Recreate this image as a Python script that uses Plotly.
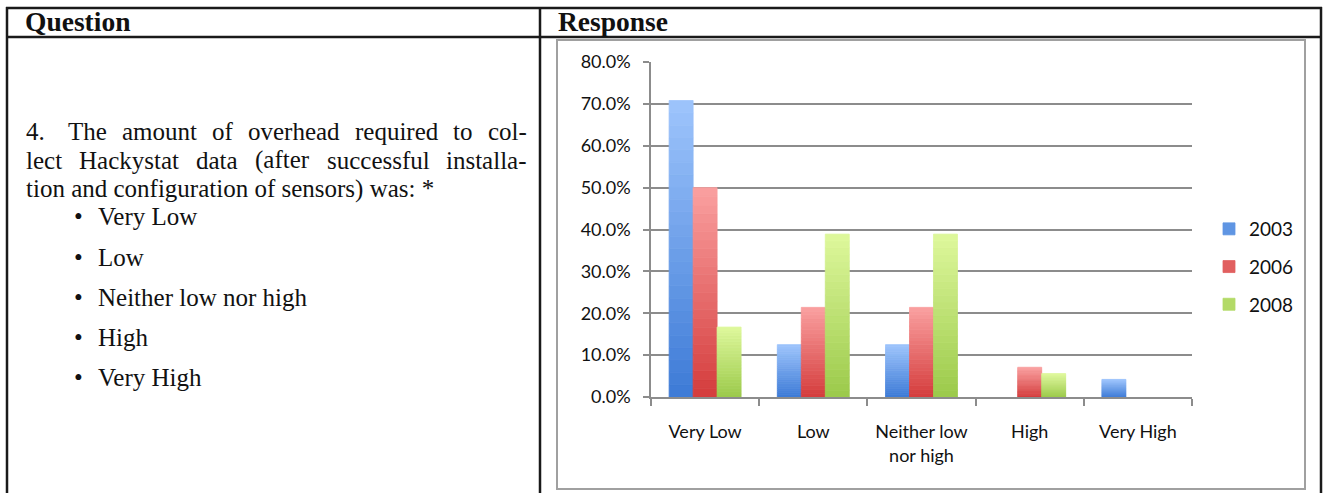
import plotly.graph_objects as go

W, H = 1325, 493

# Survey data: share of responses per category for each survey year
categories = ["Very Low", "Low", "Neither low<br>nor high", "High", "Very High"]
years = ["2003", "2006", "2008"]
values_2003 = [0.708, 0.125, 0.125, 0.0, 0.042]
values_2006 = [0.500, 0.214, 0.214, 0.071, 0.0]
values_2008 = [0.167, 0.389, 0.389, 0.056, 0.0]
y_ticks = [0.0, 0.1, 0.2, 0.3, 0.4, 0.5, 0.6, 0.7, 0.8]
y_tick_labels = ["0.0%", "10.0%", "20.0%", "30.0%", "40.0%", "50.0%", "60.0%", "70.0%", "80.0%"]

# Question paragraph: (text of the line, justified to the full column width?)
question_lines = [
    ("4.  The amount of overhead required to col-", True),
    ("lect Hackystat data (after successful installa-", True),
    ("tion and configuration of sensors) was: *", False),
]
options = ["Very Low", "Low", "Neither low nor high", "High", "Very High"]

series = [values_2003, values_2006, values_2008]
# (top colour, bottom colour) of each series' vertical gradient
gradients = [
    ((158, 197, 252), (61, 122, 214)),
    ((250, 160, 160), (212, 60, 60)),
    ((222, 248, 156), (155, 201, 74)),
]
N_BANDS = 24

# Advance widths (1/1000 em) of the Times-metric serif face, for justifying lines
ADV = {
    "a": 444, "b": 500, "c": 444, "d": 500, "e": 444, "f": 333, "g": 500, "h": 500, "i": 278,
    "j": 278, "k": 500, "l": 278, "m": 778, "n": 500, "o": 500, "p": 500, "q": 500, "r": 333,
    "s": 389, "t": 278, "u": 500, "v": 500, "w": 722, "x": 500, "y": 500, "z": 444,
    "H": 722, "T": 611, ".": 250, "-": 333, "(": 333, ")": 333, ":": 278, "*": 500,
}
TEXT_SIZE = 25
COL_LEFT, COL_RIGHT = 24, 525


def word_width(w):
    return sum(ADV.get(ch, 500) for ch in w) * TEXT_SIZE / 1000.0


def mix(c_top, c_bot, t):
    # t = 0 at the bottom of a bar, 1 at the top
    return "rgb(%d,%d,%d)" % tuple(round(b + (a - b) * t) for a, b in zip(c_top, c_bot))


def px_x(x):
    return x / W


def px_y(y):
    return 1 - y / H


fig = go.Figure()
for name, vals, (c_top, c_bot) in zip(years, series, gradients):
    # each bar is painted as a stack of thin bands so it fades from dark (bottom) to light (top)
    for k in range(N_BANDS):
        t = (k + 0.5) / N_BANDS
        col = mix(c_top, c_bot, t)
        fig.add_trace(go.Bar(
            x=categories,
            y=[v / N_BANDS if v > 0 else None for v in vals],
            base=[v * k / N_BANDS for v in vals],
            offsetgroup=name, legendgroup=name, name=name,
            showlegend=(k == N_BANDS // 3),
            marker=dict(color=col, line=dict(color=col, width=[0.8 if v > 0 else 0 for v in vals])),
            hoverinfo="skip",
        ))

serif = "Liberation Serif"
sans = "Lato"
ink = "#111111"


def note(text, x, y, family, size):
    return dict(text=text, x=px_x(x), y=px_y(y), xref="paper", yref="paper",
                xanchor="left", yanchor="middle", showarrow=False,
                font=dict(family=family, size=size, color=ink))


annotations = []
# Table header
annotations.append(note("<b>Question</b>", 23, 22, serif, 27.5))
annotations.append(note("<b>Response</b>", 556, 22, serif, 27.5))
# Question text, justified word by word
for i, (line, justify) in enumerate(question_lines):
    yy = 131 + 29 * i
    if not justify:
        annotations.append(note(line, COL_LEFT, yy, serif, TEXT_SIZE))
        continue
    words = line.split()
    # the gap after the item number is a little wider than the others
    weights = [1.5 if words[j].endswith(".") else 1.0 for j in range(len(words) - 1)]
    slack = (COL_RIGHT - COL_LEFT) - sum(word_width(w) for w in words)
    unit = slack / sum(weights)
    x = COL_LEFT
    for j, w in enumerate(words):
        annotations.append(note(w, x, yy, serif, TEXT_SIZE))
        if j < len(weights):
            x += word_width(w) + unit * weights[j]
for i, opt in enumerate(options):
    annotations.append(note("\u2022", 72, 217 + 40 * i, serif, TEXT_SIZE))
    annotations.append(note(opt, 96, 217 + 40 * i, serif, TEXT_SIZE))

shapes = []
black = dict(color="#1a1a1a", width=2.5)
# Table rules
shapes.append(dict(type="line", xref="paper", yref="paper", x0=px_x(6), x1=px_x(1322), y0=px_y(8), y1=px_y(8), line=black))
shapes.append(dict(type="line", xref="paper", yref="paper", x0=px_x(6), x1=px_x(1322), y0=px_y(37), y1=px_y(37), line=black))
for xv in (7, 540, 1321):
    shapes.append(dict(type="line", xref="paper", yref="paper", x0=px_x(xv), x1=px_x(xv), y0=px_y(7), y1=0, line=black))
# Chart frame
shapes.append(dict(type="rect", xref="paper", yref="paper", x0=px_x(557), x1=px_x(1305), y0=px_y(40), y1=px_y(489),
                   line=dict(color="#a0a0a0", width=2), layer="below"))

grid = "#8c8c8c"
fig.update_layout(
    width=W, height=H,
    margin=dict(l=0, r=0, t=0, b=0, autoexpand=False),
    paper_bgcolor="white", plot_bgcolor="white",
    barmode="group", bargap=0.335, bargroupgap=0.0,
    font=dict(family=sans, size=18, color=ink),
    xaxis=dict(domain=[px_x(651), px_x(1192)], showgrid=False, automargin=False,
               showline=True, linecolor=grid, linewidth=1.5,
               ticks="outside", tickson="boundaries", ticklen=7, tickcolor=grid, tickwidth=1.5,
               ticklabelstandoff=18,
               tickfont=dict(family=sans, size=18, color=ink)),
    yaxis=dict(domain=[px_y(397), px_y(62)], range=[0, 0.8], automargin=False,
               tickvals=y_ticks, ticktext=y_tick_labels,
               showgrid=True, gridcolor=grid, gridwidth=1.8,
               showline=True, linecolor=grid, linewidth=1.5,
               ticks="outside", ticklen=6, tickcolor=grid, tickwidth=1.5,
               ticklabelstandoff=9, zeroline=False,
               tickfont=dict(family=sans, size=18, color=ink)),
    legend=dict(x=px_x(1209), y=px_y(210), xanchor="left", yanchor="top",
                font=dict(family=sans, size=19, color=ink),
                tracegroupgap=10, bgcolor="rgba(0,0,0,0)", itemwidth=30,
                itemclick=False, itemdoubleclick=False),
    showlegend=True,
    annotations=annotations,
    shapes=shapes,
)

fig.write_html("out.html")
